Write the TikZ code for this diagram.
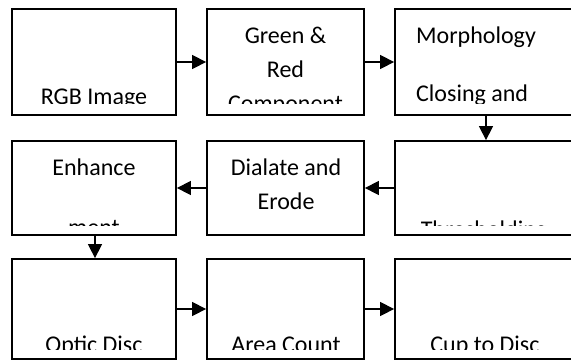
\documentclass[tikz,border=0pt]{standalone}
\usepackage{fontspec}
\setmainfont{Carlito}
\usetikzlibrary{arrows.meta}
\begin{document}
\begin{tikzpicture}[x=1pt,y=-1pt,
  box/.style={draw=black,line width=1.8pt,fill=white,inner sep=0pt},
  lbl/.style={inner sep=0pt,anchor=base,font=\fontsize{24}{29}\selectfont},
  lbll/.style={inner sep=0pt,anchor=base west,font=\fontsize{24}{29}\selectfont},
  conn/.style={line width=1.4pt,-{Triangle[length=14pt,width=14pt]}}]
\useasboundingbox (0,0) rectangle (571,360);
% boxes
\node[box,minimum width=164pt,minimum height=106pt] (b1) at (94,62) {};
\node[box,minimum width=157pt,minimum height=106pt] (b2) at (285.5,62) {};
\node[box,minimum width=178pt,minimum height=106pt] (b3) at (484,62) {};
\node[box,minimum width=164pt,minimum height=94pt] (b4) at (94,188) {};
\node[box,minimum width=157pt,minimum height=94pt] (b5) at (285.5,188) {};
\node[box,minimum width=178pt,minimum height=94pt] (b6) at (484,188) {};
\node[box,minimum width=164pt,minimum height=100pt] (b7) at (94,309) {};
\node[box,minimum width=157pt,minimum height=100pt] (b8) at (285.5,309) {};
\node[box,minimum width=178pt,minimum height=100pt] (b9) at (484,309) {};
% texts, clipped like the reference
\begin{scope}
\clip (12,9) rectangle (571,103);
\node[lbl] (t1) at (94,104) {RGB Image};
\node[lbl] (t2a) at (285.5,43.5) {Green \&};
\node[lbl] (t2b) at (285.5,77.5) {Red};
\node[lbl] (t2c) at (285.5,111) {Component};
\node[lbll] (t3a) at (416,43.5) {Morphology};
\node[lbll] (t3b) at (416,101.5) {Closing and};
\end{scope}
\begin{scope}
\clip (12,141) rectangle (571,225);
\node[lbl] (t4a) at (94,175) {Enhance};
\node[lbl] (t4b) at (94,235) {ment};
\node[lbl] (t5a) at (286,175) {Dialate and};
\node[lbl] (t5b) at (286,209.5) {Erode};
\node[lbl] (t6) at (484,237) {Thresholding};
\end{scope}
\begin{scope}
\clip (12,259) rectangle (571,349.5);
\node[lbl] (t7) at (94,352.5) {Optic Disc};
\node[lbl] (t8) at (286,352.5) {Area Count};
\node[lbl] (t9) at (485,352.5) {Cup to Disc};
\end{scope}
% connectors
\draw[conn] (b1.east) -- (b2.west);
\draw[conn] (b2.east) -- (b3.west);
\draw[conn] (b3.south -| 486,0) -- (b6.north -| 486,0);
\draw[conn] (b6.west) -- (b5.east);
\draw[conn] (b5.west) -- (b4.east);
\draw[conn] (b4.south -| 95,0) -- (b7.north -| 95,0);
\draw[conn] (b7.east) -- (b8.west);
\draw[conn] (b8.east) -- (b9.west);
\end{tikzpicture}
\end{document}
